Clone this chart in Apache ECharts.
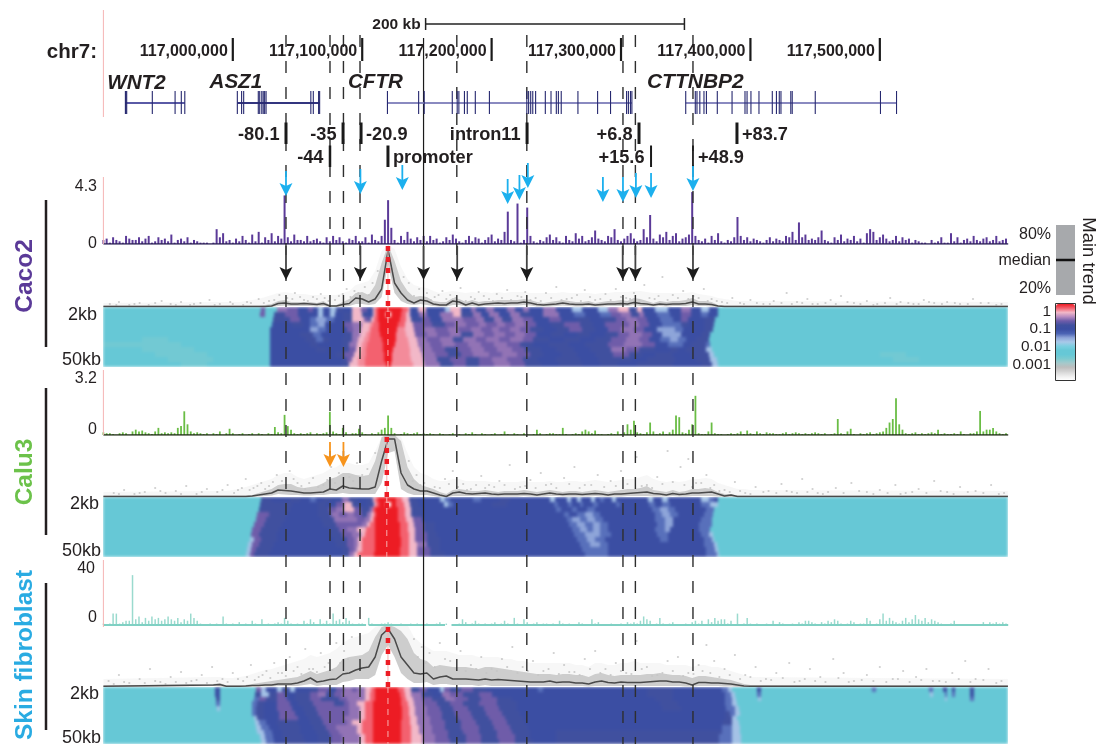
<!DOCTYPE html>
<html><head><meta charset="utf-8">
<script src="https://cdn.jsdelivr.net/npm/echarts@6/dist/echarts.min.js"></script>
<style>html,body{margin:0;padding:0;background:#fff}#c{width:1097px;height:744px}
canvas[data-zr-dom-id="zr_0"]{filter:blur(1.5px)}</style>
</head><body><div id="c"></div>
<script>
// genomic coordinates are kb offsets from chr7:117,000,000
const X_MIN=-100, X_MAX=599.2;
const tickKb=[0,100,200,300,400,500];
const tickLabels=['117,000,000','117,100,000','117,200,000','117,300,000','117,400,000','117,500,000'];
const wnt2=[-83,-82.6,-82,-62.2,-44.6,-39.8,-37.1];
const asz1=[3.5,6.8,8.4,19.7,20.8,22.4,23.5,24.6,25.7,60.3,62.2,66.3,67.1];
const cftr=[119.5,143.6,147.9,169.6,173.4,174.7,179,181.2,187.4,198.3,227.2,228.6,230.2,231.8,234,241.5,245.9,250,251.6,253.8,266.7,281.9,291.9,304.3,305.7,307.3,308.4];
const cttnbp2=[350,357.4,358.7,360.9,364.1,366,374.4,385.8,395.8,397.4,400.4,406.6,416.9,420.1,422.3,423.6,431.2,432.3,450.1,500.5,512.9];
const dashedKb=[41.1,75.1,85.5,98.3,173.1,227.2,301.5,311.1,355.6];
const solidKb=[147.4];
const blueArrows=[[41.1,196],[98.6,194],[131,190],[212.4,204],[221.5,200],[228,188],[286,202],[301.5,202],[311.5,198],[323.2,198],[355.6,191]];
const blackArrows=[41.1,98.6,147.4,173.4,227.2,301.3,311.1,355.6];
const orangeArrows=[75.1,85.5];
const siteLabels=[[41.1,'-80.1','r',134,3],[85.2,'-35','r',134,3],[99.1,'-20.9','l',134,3],[227.4,'intron11','r',134,3],[313.9,'+6.8','r',134,3],[389.6,'+83.7','l',134,3],[75.1,'-44','r',157,2.5],[119.9,'promoter','l',157,3],[323.2,'+15.6','r',157,2],[355.6,'+48.9','l',157,1.8]];

const binStart=-100, binKb=2.5;
const caco2Signal=[.3,.4,.1,.5,.3,.2,.1,.6,.4,.3,.3,.5,.2,.4,.6,.1,.2,.5,.3,.4,
.2,.7,.1,.3,.4,.2,.5,.1,.3,.2,.1,.1,.1,0,.1,1.1,.5,.8,.2,.3,
.1,.4,.2,.6,.3,.1,.7,.2,.9,.1,.5,.3,.8,.2,.6,.4,3.6,.5,.2,.7,
.3,.3,.2,.6,.2,.3,.4,.2,.1,.5,.2,.6,.3,.5,.2,.1,.4,.3,.6,.2,
.2,.5,.1,.7,.3,.2,.6,1.8,3.25,1.2,.3,.1,.6,.3,.9,.4,.2,.5,.3,.6,
.2,.6,.3,.4,.1,.2,.5,.3,.7,.4,.2,.1,.3,.6,.2,.5,.4,.1,.3,.5,
.7,.2,.4,.3,.9,2.4,.3,.2,3,.1,.3,2.7,.6,.2,.1,.3,.2,.5,.7,.3,
.5,.2,.1,.6,.3,.2,.8,.4,.6,.2,.3,.5,1,.4,.3,.2,.6,.5,1.1,.3,
.2,.4,.6,.8,.4,.2,.3,1.1,.5,2.15,.4,.2,.7,.5,.9,.3,.6,.8,.2,.4,
.5,.7,3.85,.6,.3,.2,.4,.1,.6,.3,.8,.2,.1,.3,.2,.5,2,.6,.3,.5,
.2,.4,.3,.2,.1,.3,.5,.2,.4,.3,.2,.6,.5,.9,.3,1.6,.5,.7,.3,.4,
.3,.5,1,.3,.2,.1,.5,.3,.7,.2,.4,.3,.6,.2,.4,.1,.8,1.1,.9,.3,
.5,.7,.4,.2,.3,.6,.2,.5,.3,.4,.1,.3,.2,.1,.1,0,.3,.1,.2,.5,
.1,.1,.8,.2,.5,.1,.3,.4,.2,.6,.3,.2,.4,.5,.2,.3,.6,.2,.3,.4];
const calu3Signal=[.15,.1,.1,.05,0,.1,.15,.1,0,.2,.3,.2,.25,.15,.1,.05,.2,.4,.1,.15,
.1,.15,.1,.4,.5,1.33,.6,.2,.1,.15,.1,.05,.1,0,.1,.05,.2,0,.1,.35,
.1,0,.05,.1,0,.05,.1,0,.1,.05,0,.1,.05,.45,.15,.1,1.13,.5,.3,.1,
.05,.1,.05,.1,.15,0,.1,.05,.1,.15,1.3,.2,.1,.05,.4,.15,0,.1,.1,.35,
.15,.05,0,.1,.05,.15,.3,.4,1.1,.4,.1,0,.05,.15,.1,.05,.1,.15,.05,.1,
.05,.1,.05,0,.1,.05,0,.05,.1,0,.05,0,.1,.05,.15,.05,0,.1,.05,0,
.05,.1,0,.05,.2,.05,0,.1,.05,0,.1,.05,0,.05,.3,.1,0,.05,.1,.1,
.05,.05,.4,.05,0,.05,.1,.05,.2,.3,.2,.1,.25,.05,.05,0,.05,.1,.05,.2,
.05,.15,.6,.3,.8,.15,.1,.05,.15,.7,.2,.05,.1,.2,.05,.15,.3,1.1,1,.15,
.1,.3,.6,2.2,.1,.05,.05,.2,.7,.1,.05,.05,0,.05,.1,.05,.1,.2,.05,.25,
.1,.05,.2,.1,.05,.15,.1,.1,.05,.05,.1,.15,.05,.1,.15,.1,.05,.1,.05,.1,
.15,.1,.05,.1,0,.05,.1,.9,.1,.05,.2,.35,.05,0,.1,.05,.1,.15,.05,.1,
.15,.2,.4,.7,.9,2.07,.6,.3,.1,.05,.1,.15,.05,.1,.05,.1,.15,.1,.3,.05,
.1,.05,.05,.1,.05,.2,.05,0,.1,.1,.2,1.35,.2,.3,.3,.4,.2,.1,.05,.1];
const fibroSignal=[1,.5,1,8,8,1,2,3,3,35,4,6,2,5,3,6,4,5,3,4,
6,4,3,5,2,4,3,8,5,3,1,.5,0,1,.5,1,0,6,1,.5,
1,.5,2,.5,1,0,3,1,.5,4,.5,1,.5,1,2,1,5,3,1,.5,
1,.5,3,1,4,2,.5,4,1,3,1,8,3,4,2,5,3,1,.5,1,
1,0,5,1,.5,0,1,1,2,1,.5,0,1,.5,0,1,.5,1,.5,0,
1,.5,0,1,2,.5,1,0,.5,0,1,4,2,.5,1,3,1,.5,1,.5,
1,2,.5,1,3,1,.5,5,1,.5,4,2,.5,1,2,.5,1,1,0,1,
.5,3,1,.5,1,0,.5,2,1,0,.5,4,1,2,.5,0,.5,1,0,.5,
1,.5,2,1,2,1,3,6,4,3,.5,1,5,1,.5,1,2,.5,0,.5,
1,.5,2,3,1,3,.5,4,2,5,3,4,4,1,3,.5,8,.5,1,5,
1,.5,1,.5,.5,1,.5,3,.5,2,1,0,.5,1,.5,2,1,3,3,2,
1,.5,2,1,3,2,4,3,1,.5,1,3,2,.5,1,1,5,3,.5,1,
4,8,3,5,3,2,1,3,5,2,4,7,4,3,5,2,4,3,2,1,
.5,.5,1,3,.5,0,0,0,0,.5,0,.5,2,.5,2,1,2,1,2,1];

const trendKb=[-100,-15,-10,-5,0,5,10,15,20,25,30,35,40,45,50,55,60,65,70,75,80,85,90,95,100,105,110,115,120,125,130,135,140,145,150,155,160,165,170,175,180,185,190,195,200,205,210,215,220,225,230,235,240,245,250,255,260,265,270,275,280,285,290,295,300,305,310,315,320,325,330,335,340,345,350,355,360,365,370,375,380,385,390,395,400,599];
const caco2Median=[.5,.5,.5,.5,.5,.5,.5,.5,.5,.5,1,3.5,4,3,3,3.5,3,2.5,3.5,1,1,2.5,3.5,9,8,5,8,18,57,24,14,7,4,7,6,3,2,2,6,5,2,4,2,3,3.5,4,3.5,4,4,5,4,2.5,2,2.5,3,4,3,2.5,2.5,3,2,2.5,3,3,3.5,3,4.5,3.5,3,2,3,2.5,3,3,3.5,5,3,3,2.5,1,.5,.5,.5,.5,.5,.5];
const caco2Upper=[1.5,1.5,1.5,1.5,1.5,1.5,1.5,1.5,1.5,2,3,6,7,5,5,5,5,4,6,2,2,5,8,14,15,12,22,44,62,46,26,16,10,11,10,6,5,5,9,8,5,7,5,6,6,7,7,7,7,8,7,5,4,5,6,7,6,5,5,6,4,5,6,6,7,6,9,8,6,4,6,5,6,6,7,9,6,6,5,2,1.5,1.5,1.5,1.5,1.5,1.5];
const caco2Lower=[0,0,0,0,0,0,0,0,0,0,0,1,1.5,1,1,1,1,.5,1,0,0,.5,1,3,3,2,3,10,42,14,6,3,2,3,2,1,.5,.5,2,2,.5,1,.5,1,1,1,1,1.5,1.5,2,1.5,.5,.5,.5,1,1.5,1,.5,.5,1,.5,.5,1,1,1,1,2,1,1,.5,1,.5,1,1,1,2,1,1,.5,0,0,0,0,0,0,0];
const caco2Haze=[4,5,5,5,5,5,6,7,8,10,12,14,15,14,13,13,12,12,12,12,12,14,16,22,24,26,36,56,62,58,40,28,22,20,19,16,14,15,16,15,14,15,14,15,14,15,14,15,15,15,14,14,14,14,14,15,14,14,14,14,13,14,14,15,15,15,16,16,15,14,14,14,14,14,14,15,13,12,11,9,8,7,6,6,6,5];
const calu3Median=[.5,.5,.5,.5,.5,.5,.5,1,2,3,4,7,6.5,6,5,4,4,4.5,5,8,7,11,9,8.5,8,8,10,36,58,58,24,12,8,6,6,4,2,.5,4,5,3.5,3,3.5,4,3,2.5,3,3,3,3.5,3,2,3,4,3,2.5,3,3,2.5,3,3.5,3,2,3,3,3.5,4,4.5,5,3.5,3,2,3.5,2.5,3,4,4,4.5,5,3,1,2,.5,.5,.5,.5];
const calu3Upper=[1.5,1.5,1.5,1.5,1.5,1.5,1.5,2,4,6,8,12,13,13,10,9,10,11,14,18,20,24,24,22,21,22,36,60,62,62,56,30,18,12,10,8,5,3,7,8,7,6,6,7,6,5,6,6,6,7,6,5,6,7,6,5,6,6,5,6,7,6,5,6,7,8,8,9,11,7,6,5,7,5,6,8,8,9,8,5,3,3,1.5,1.5,1.5,1.5];
const calu3Lower=[0,0,0,0,0,0,0,0,.5,1,1.5,3,2.5,2,2,1.5,1.5,2,2,3,3,4,3,3,3,3,3,14,44,46,8,4,2,2,2,1,0,0,1,1,1,1,1,1,.5,.5,.5,.5,.5,1,.5,.5,.5,1,1,.5,.5,.5,.5,.5,1,.5,.5,.5,.5,1,1,1,1,.5,.5,.5,1,.5,.5,1,1,1,1,.5,0,0,0,0,0,0];
const calu3Haze=[5,6,6,6,7,8,10,12,14,16,18,22,24,24,20,18,20,22,24,28,30,34,34,32,32,34,46,60,62,62,60,44,30,24,22,18,16,16,18,18,16,16,16,16,15,15,15,15,15,16,15,15,15,16,15,15,16,16,15,16,17,16,15,16,17,18,18,20,22,18,16,15,16,15,16,18,18,19,18,14,12,10,8,8,7,6];
const fibroMedian=[.8,2,2.5,.8,.8,.8,1,1.5,1.5,2,2,3,3,3,4,6,9,5,6,7.5,8,13,14,17,19,20,30,52,58,48,30,22,14,13,14,8,10,11,8,8,8,7.5,7,8,7,7.5,7,6.5,6,5.5,5,5,5,6,4.5,5,5,4,4,3,5,6,4.5,4,5,4.5,4.5,4.5,5,5.5,6,6,5,5,4,2,4.5,4.5,4,4,3.5,3,2,1,.8,.8];
const fibroUpper=[1.5,3,4,1.5,1.5,1.5,2,3,4,5,6,7,8,9,10,13,16,13,15,17,20,28,30,31,32,36,50,60,62,60,56,48,34,28,26,20,22,21,20,20,20,19,18,20,20,19,18,17,16,15,14,13,13,13,12,13,13,12,12,10,13,14,12,11,12,12,12,12,13,13,14,13,12,12,11,9,11,11,10,9,8,7,5,3,2,1.5];
const fibroLower=[0,1,.5,0,0,0,0,.5,.5,.5,.5,1,1,1,1,2,3,1,2,2,2,5,6,8,8,8,12,32,42,30,14,8,4,4,5,2,3,3,2,2,2,2,1,2,1,1,1,1,1,1,1,1,1,1,1,1,1,1,1,.5,1,1,1,1,1,1,1,1,1,1,1,1,1,1,.5,.5,1,1,1,1,.5,.5,0,0,0,0];
const fibroHaze=[8,10,10,9,9,10,11,13,15,17,18,20,22,24,26,28,32,30,32,34,38,44,48,50,52,54,60,62,62,62,62,62,50,44,40,36,36,36,34,32,32,32,30,30,30,30,28,28,26,26,24,24,24,24,24,24,24,22,22,20,24,24,22,22,24,24,26,24,24,24,24,22,22,22,22,20,22,22,20,20,18,16,14,12,10,8];

// scattered contact points, as [kb, height above the 2 kb line]
const caco2Dots=[[-95,3],[-88,5],[-80,2],[-72,4],[-65,2],[-55,6],[-48,3],[-40,5],[-33,2],[-25,4],[-18,7],[-10,3],[-2,5],[8,2],[14,4],[20,8],[28,6],[36,12],[42,9],[48,14],[55,7],[62,10],[68,13],[74,6],[82,11],[88,18],[94,16],[102,20],[108,24],[112,36],[132,30],[136,24],[144,18],[150,14],[156,10],[162,16],[168,12],[176,19],[184,10],[190,15],[198,8],[204,13],[212,17],[220,11],[226,15],[234,9],[242,14],[250,20],[258,8],[266,12],[272,17],[280,7],[288,13],[296,18],[304,9],[310,14],[318,22],[326,8],[332,30],[340,12],[348,16],[356,11],[364,18],[370,8],[378,5],[386,9],[392,4],[400,7],[410,3],[418,6],[428,14],[436,5],[444,8],[452,3],[462,7],[470,11],[480,4],[490,6],[498,3],[508,9],[516,5],[526,3],[534,7],[542,4],[552,5],[562,3],[572,8],[584,4],[594,3],
[-90,2],[-76,3],[-60,4],[-44,2],[-30,3],[-14,2],[0,3],[11,5],[24,4],[32,7],[39,5],[46,8],[52,10],[58,6],[65,8],[71,9],[79,7],[85,13],[91,10],[97,14],[105,12],[140,11],[147,9],[153,7],[159,12],[165,8],[172,9],[180,6],[187,8],[194,11],[201,6],[208,9],[215,7],[223,10],[230,7],[238,6],[246,9],[254,7],[262,9],[269,6],[276,10],[284,8],[292,7],[300,10],[307,8],[314,7],[322,9],[329,11],[336,7],[344,9],[352,8],[360,9],[367,6],[374,6],[382,4],[395,3],[405,4],[415,3],[424,4],[432,3],[440,4],[448,3],[458,4],[466,3],[475,5],[485,3],[495,2],[504,4],[513,3],[522,4],[530,3],[538,5],[548,3],[558,4],[568,3],[578,4],[590,2]];
const calu3Dots=[[-92,4],[-84,7],[-76,3],[-68,5],[-60,9],[-52,4],[-44,6],[-36,11],[-28,3],[-20,8],[-12,5],[-4,12],[4,7],[10,18],[16,9],[22,14],[28,11],[34,22],[38,16],[44,26],[50,14],[56,8],[62,19],[70,12],[76,30],[82,24],[90,20],[96,34],[104,28],[110,44],[136,36],[142,22],[148,14],[156,10],[164,18],[170,26],[178,13],[184,8],[192,21],[198,12],[206,16],[214,32],[222,10],[230,17],[238,24],[246,13],[256,19],[264,30],[272,12],[282,22],[292,16],[300,26],[312,40],[320,12],[328,20],[336,46],[346,30],[352,38],[358,14],[366,22],[372,12],[380,7],[388,15],[396,4],[404,10],[414,6],[424,13],[432,5],[440,18],[448,8],[456,3],[466,9],[478,14],[490,5],[500,7],[512,12],[520,4],[530,8],[542,16],[552,5],[562,10],[574,6],[586,12],[596,4],
[-88,3],[-72,4],[-56,6],[-40,3],[-24,5],[-8,7],[1,4],[7,9],[13,7],[19,11],[25,8],[31,15],[41,12],[47,18],[53,11],[59,14],[66,10],[73,17],[79,14],[86,18],[93,16],[100,22],[139,16],[145,12],[152,8],[160,9],[167,13],[174,10],[181,7],[188,12],[195,9],[202,10],[210,12],[218,8],[226,11],[234,9],[242,12],[250,9],[260,13],[268,9],[277,12],[287,10],[296,11],[305,13],[316,11],[324,9],[332,13],[340,15],[349,12],[355,10],[362,14],[369,9],[376,6],[384,5],[392,6],[400,3],[410,5],[420,4],[428,6],[436,4],[444,5],[452,4],[460,5],[472,4],[484,6],[495,3],[506,4],[516,3],[525,5],[536,4],[547,6],[557,3],[568,5],[580,4],[592,3]];
const fibroDots=[[-96,6],[-88,12],[-80,4],[-72,8],[-64,18],[-56,5],[-48,10],[-40,15],[-32,6],[-24,12],[-16,20],[-8,8],[0,14],[8,6],[14,22],[20,10],[26,16],[32,24],[38,14],[44,30],[50,20],[56,38],[62,18],[68,34],[74,24],[80,44],[86,36],[92,50],[140,48],[146,40],[152,34],[160,44],[168,26],[176,36],[184,22],[192,30],[200,18],[208,28],[216,40],[224,20],[232,26],[240,16],[248,34],[256,22],[264,15],[272,28],[280,36],[288,18],[296,24],[304,14],[312,46],[320,20],[328,12],[336,26],[344,30],[352,14],[360,22],[366,42],[372,26],[380,18],[388,32],[396,12],[404,20],[412,8],[420,14],[430,24],[438,6],[446,18],[454,10],[464,28],[472,14],[480,6],[490,12],[500,20],[510,8],[518,16],[528,10],[536,18],[546,6],[556,14],[566,26],[574,8],[584,18],[594,6],
[-92,3],[-84,5],[-68,4],[-60,6],[-52,3],[-44,5],[-36,4],[-28,7],[-20,4],[-12,6],[-4,5],[4,8],[11,10],[17,7],[23,12],[29,9],[35,14],[41,11],[47,16],[53,13],[59,18],[65,15],[71,20],[77,17],[83,24],[89,28],[143,30],[149,24],[156,20],[164,28],[172,18],[180,16],[188,18],[196,14],[204,16],[212,20],[220,14],[228,16],[236,12],[244,18],[252,13],[260,15],[268,12],[276,18],[284,14],[292,12],[300,16],[308,13],[316,18],[324,11],[332,14],[340,16],[348,11],[356,13],[363,16],[369,14],[376,10],[384,12],[392,8],[400,10],[408,6],[416,7],[425,9],[434,5],[442,8],[450,6],[458,5],[468,9],[476,5],[486,7],[495,6],[505,5],[514,8],[523,5],[532,7],[541,6],[551,5],[561,8],[570,5],[580,7],[590,4]];

const rowEdges=[2,2.62,3.42,4.47,5.85,7.65,10,13.1,17.1,22.4,29.2,38.2,50];
// levels are log10 of contact frequency
const W=-4,G=-2.62,C=-2.4,L=-1.7,N=-1.5,M=-1.3,B=-1,D=-.75,P=-.5,Q=-.38,K=0,S=.13,H=.25,R=.5;
const caco2Heat=[
[22,C,25,P,34,C,42,Q,50,P,58,B,62,P,66,B,70,L,75,B,80,L,85,D,92,B,99,K,104,P,108,B,110,K,112,H,131,R,135,H,137,K,143,B,149,K,155,B,164,B,168,L,176,K,184,B,188,Q,196,B,202,Q,212,B,218,Q,224,B,229,Q,240,B,250,Q,262,B,270,L,282,B,290,L,298,Q,306,K,312,D,316,K,326,B,336,L,346,B,354,Q,362,B,368,L,375,B,600,C],
[21,C,25,P,32,C,40,D,50,P,58,B,66,B,70,L,75,B,79,L,85,B,92,D,100,K,104,D,108,B,110,K,112,H,118,R,122,W,130,R,134,H,137,K,144,B,150,Q,160,B,170,Q,176,K,186,D,192,Q,198,B,206,Q,214,B,222,Q,230,D,240,B,252,Q,264,B,272,M,284,B,292,M,300,P,308,Q,314,D,318,Q,328,B,338,M,346,B,354,P,362,B,367,M,375,B,600,C],
[31,C,44,D,52,P,60,B,64,M,72,N,78,M,85,B,92,D,101,K,105,P,107,D,109,K,112,H,129,R,134,H,138,K,146,D,152,P,162,B,172,Q,178,Q,188,P,194,Q,202,D,208,Q,216,D,224,Q,232,P,244,B,254,P,266,B,276,D,286,B,296,D,304,P,312,Q,320,P,330,B,340,M,346,B,352,P,364,B,373,D,600,C],
[30,C,46,B,54,D,60,B,66,M,71,N,76,B,86,B,92,P,100,Q,106,K,108,S,113,H,128,R,133,H,139,K,148,P,154,P,164,D,172,P,180,Q,190,P,196,Q,204,P,210,Q,218,P,226,Q,234,P,246,B,256,D,268,P,278,D,288,B,298,P,306,P,314,Q,322,P,332,B,338,M,346,M,352,D,364,B,372,D,600,C],
[29,C,48,B,60,B,66,N,72,M,76,B,88,B,93,P,99,Q,105,K,107,S,113,H,127,R,133,S,140,K,148,P,156,Q,166,P,174,Q,184,P,192,Q,200,P,206,Q,214,P,222,Q,230,P,240,D,250,B,260,D,270,P,280,D,290,B,300,P,310,Q,318,P,328,B,334,N,342,N,348,M,354,B,364,B,371,D,600,C],
[29,C,52,B,62,D,68,M,74,B,86,B,92,D,98,Q,103,K,106,S,114,H,126,R,134,S,141,K,150,P,158,Q,168,P,176,Q,186,D,194,Q,202,P,210,Q,218,P,226,Q,234,P,246,B,256,D,266,B,276,D,288,B,298,D,306,P,316,Q,324,P,332,B,340,N,346,N,352,B,362,B,369,D,600,C],
[-70,C,-50,G,29,C,56,B,64,D,70,M,74,D,84,B,92,D,97,Q,101,K,105,S,115,H,126,R,135,S,142,K,150,Q,160,P,170,Q,178,D,188,Q,196,P,206,Q,214,P,224,Q,232,P,244,D,256,B,268,D,280,B,292,D,304,P,314,Q,322,P,330,B,338,M,344,N,350,M,358,B,368,D,600,C],
[-70,G,-40,G,29,C,60,B,66,D,72,B,84,B,90,D,96,Q,100,K,104,S,116,H,125,R,136,S,143,K,152,Q,162,P,172,Q,182,P,192,Q,202,P,212,Q,222,P,232,D,244,B,260,D,272,B,290,D,302,P,316,Q,326,P,336,B,342,M,348,M,354,B,366,D,369,M,600,C],
[-70,C,-30,G,29,C,64,B,72,D,78,B,84,B,90,D,95,P,99,K,103,S,116,H,124,R,137,S,145,K,154,Q,164,P,174,D,184,P,194,Q,204,P,216,Q,226,P,238,D,250,B,264,D,276,B,292,D,304,Q,314,P,326,D,338,B,344,D,350,B,366,D,370,L,600,C],
[-60,C,-20,G,29,C,66,B,74,B,80,B,86,D,94,P,98,K,103,S,117,H,123,R,137,S,146,K,156,Q,166,P,176,D,186,P,198,Q,208,P,220,Q,230,P,240,D,254,B,266,D,280,B,294,D,306,P,316,D,326,B,340,D,346,B,354,B,368,D,372,L,500,C,520,G,600,C],
[-50,C,-15,G,29,C,68,B,76,B,84,B,88,D,92,P,97,K,102,S,117,H,123,R,138,S,147,K,158,Q,168,D,180,P,190,D,200,P,212,Q,224,P,236,D,250,B,268,D,282,B,296,D,308,D,320,B,342,D,348,B,358,B,369,D,374,L,510,C,530,G,600,C],
[-40,C,-20,G,29,C,70,B,78,B,84,B,90,D,97,K,102,S,118,H,122,R,139,S,148,K,160,Q,170,D,180,P,190,D,202,P,214,Q,226,P,238,D,252,B,270,D,284,B,298,D,312,B,340,D,348,B,362,B,370,D,375,L,600,C]];
const calu3Heat=[
[22,C,30,D,44,B,52,D,60,B,64,M,70,B,76,D,84,B,90,Q,96,D,104,B,108,D,110,K,112,H,126,R,131,H,136,K,142,D,160,B,164,L,168,M,186,B,192,M,206,B,214,D,245,B,249,L,258,B,261,L,266,B,269,L,277,B,280,L,284,B,287,M,293,B,296,L,321,B,325,L,332,B,336,L,362,B,368,L,372,M,375,B,600,C],
[21,C,32,D,46,D,54,B,66,B,72,D,80,B,86,P,92,K,98,D,104,B,109,D,111,K,113,H,118,R,122,W,126,R,132,H,137,K,144,D,163,B,166,L,170,M,200,B,212,D,248,B,251,M,259,B,262,M,268,B,271,M,278,B,282,M,296,B,299,M,322,B,326,M,332,B,338,M,362,B,369,M,375,L,600,C],
[20,C,30,D,44,D,52,B,66,B,74,D,80,P,86,Q,94,K,99,P,106,D,108,Q,110,H,115,R,128,R,133,H,138,K,146,D,250,B,254,M,262,B,266,M,274,B,280,M,324,B,330,M,336,N,342,M,366,B,372,M,600,C],
[19,C,28,P,42,D,50,B,66,B,76,D,82,Q,88,P,94,Q,100,P,104,D,107,Q,109,K,111,H,128,R,133,H,138,K,146,D,256,B,260,M,266,B,272,M,278,N,284,M,326,B,332,M,338,N,344,M,364,B,371,M,600,C],
[18,C,26,P,40,D,50,B,68,B,78,D,84,Q,96,Q,102,P,106,Q,108,K,110,H,128,R,134,H,139,K,146,P,258,B,262,M,268,N,274,M,280,N,286,M,326,B,334,M,340,N,346,B,362,B,370,M,600,C],
[16,C,24,P,38,D,52,B,70,B,80,D,86,P,100,P,104,Q,106,K,110,H,129,R,135,H,140,K,148,P,156,D,260,B,266,M,272,N,278,M,284,N,290,M,328,B,334,M,340,N,346,B,360,B,370,M,600,C],
[15,C,22,P,36,D,50,B,74,B,82,D,88,P,96,Q,103,K,110,H,129,R,135,H,141,K,148,P,156,D,262,B,268,M,274,N,278,M,284,N,290,M,326,B,334,M,338,N,344,B,360,B,369,M,600,C],
[14,C,20,P,34,D,46,B,76,B,84,D,92,P,99,Q,102,K,110,H,129,R,136,H,141,K,150,P,158,D,264,B,272,M,284,N,292,M,328,B,336,M,340,B,362,B,368,M,371,L,600,C],
[13,C,16,L,22,P,34,D,46,B,78,B,88,D,94,P,97,Q,100,K,110,H,130,R,136,H,141,K,150,P,160,D,266,B,274,M,280,N,288,M,330,B,336,M,340,B,364,B,370,M,372,L,600,C],
[12,C,15,L,20,P,32,D,44,B,80,B,88,D,94,P,97,Q,100,K,110,H,130,R,136,H,142,K,150,Q,160,D,268,B,276,M,284,N,290,M,364,B,372,M,374,L,600,C],
[11,C,14,L,18,P,30,D,42,B,84,B,90,D,94,P,96,Q,100,K,110,H,129,R,136,H,142,K,152,P,160,D,270,B,282,M,290,M,366,B,373,M,375,L,600,C],
[10,C,13,L,16,P,28,D,40,B,84,B,90,D,94,Q,97,K,109,H,129,R,136,H,142,K,152,P,164,D,272,B,284,M,290,M,366,B,374,M,376,L,600,C]];
const fibroHeat=[
[-14,C,-10,B,18,C,22,P,26,L,34,B,38,L,44,D,48,L,60,B,66,D,74,P,80,B,86,P,92,Q,96,P,102,Q,107,K,110,H,128,R,132,H,138,K,144,D,150,P,160,B,163,L,168,P,176,D,186,P,196,D,236,B,240,M,320,B,340,D,378,B,383,M,386,L,405,C,408,B,494,C,497,M,538,C,541,M,549,C,552,B,556,C,558,B,570,C,573,B,600,C],
[-14,C,-10,B,17,C,22,D,28,L,34,D,40,P,48,B,60,D,66,P,72,Q,78,D,84,P,90,Q,102,Q,106,K,110,H,129,R,133,H,138,K,146,Q,154,D,162,B,168,Q,178,P,190,D,200,P,320,B,340,D,380,B,385,M,388,L,405,C,408,M,539,C,541,L,550,C,552,M,556,C,558,M,570,C,573,B,600,C],
[-13,C,-10,D,16,C,20,M,26,P,34,D,42,P,48,B,60,D,68,P,82,D,88,P,94,Q,102,Q,106,K,110,H,130,R,134,H,139,K,146,Q,154,P,164,D,172,Q,182,P,192,D,204,P,216,D,326,B,340,D,380,B,386,M,389,L,406,C,408,L,550,C,552,L,570,C,573,M,600,C],
[-13,C,-10,M,15,C,19,M,24,D,34,B,44,P,50,B,62,D,78,P,86,D,90,P,96,Q,102,K,108,H,130,R,135,H,140,K,148,Q,158,P,168,D,178,P,190,D,204,P,220,D,230,B,330,B,344,D,380,B,386,M,390,L,600,C],
[-12,C,-10,L,15,C,18,M,24,D,34,B,46,P,54,B,64,D,84,P,90,P,98,Q,102,K,108,H,131,R,136,H,141,K,150,Q,160,P,170,D,182,P,194,D,206,P,220,D,236,B,332,B,346,D,381,B,388,M,391,L,600,C],
[15,C,18,M,24,D,36,B,48,P,56,B,66,D,86,P,90,P,98,Q,102,K,108,H,131,R,136,H,141,K,150,Q,162,P,172,D,184,P,196,D,208,P,222,D,240,B,380,B,384,D,388,M,392,L,600,C],
[16,C,19,L,24,D,36,B,50,P,58,B,68,D,86,P,92,Q,98,Q,102,K,108,H,131,R,137,H,142,K,152,Q,162,P,174,D,186,P,198,D,210,P,224,D,244,B,380,B,386,D,390,L,600,C],
[17,C,20,L,26,M,34,B,50,D,60,B,70,D,88,P,92,Q,100,K,108,H,130,R,137,H,142,K,152,Q,164,P,176,D,188,P,200,D,212,P,226,D,246,B,378,B,386,D,391,L,600,C],
[18,C,22,L,28,M,36,B,52,D,62,B,72,D,80,P,88,Q,96,Q,100,K,108,H,130,R,138,H,144,K,154,Q,164,P,176,D,190,P,202,D,214,P,228,D,250,B,378,B,386,M,392,L,600,C],
[19,C,24,L,30,M,38,B,52,D,64,B,74,D,82,P,90,Q,96,Q,100,K,108,H,130,R,138,H,144,K,154,Q,166,P,178,D,190,P,204,D,216,P,230,D,250,B,378,D,386,M,392,L,600,C],
[21,C,25,L,31,M,38,B,54,D,66,B,76,D,84,P,90,Q,98,Q,102,K,108,H,130,R,138,H,146,K,156,Q,166,P,180,D,192,P,204,D,218,P,230,D,250,B,376,D,386,M,393,L,600,C],
[22,C,26,L,32,M,40,B,56,D,66,B,76,D,84,P,92,Q,98,Q,102,K,108,H,130,R,138,H,146,K,156,Q,168,P,180,D,192,P,206,D,218,P,232,D,250,B,376,D,386,M,393,L,600,C]];

const heatStops=['#ffffff','#ececec','#d4d4d4','#bdbdbd','#a6c9cb','#7ecbd0','#66c8d6','#66c8d6','#7ccfe0','#a9c9e9','#8ea5d9','#4b63b4','#3b4ea3','#40509f','#6f5ca9','#b88cc1','#f2b8c8','#f3616f','#ed1c24'];
const heatMin=-4, heatMax=.5;
const legendTicks=['1','0.1','0.01','0.001'];

const chart=echarts.init(document.getElementById('c'),null,{renderer:'canvas'});
const gridTops=[[0,744],[186,58],[245,62],[307,60],[378,57],[437,60],[497,60],[568,57],[627,60],[687,60]];
const grid=gridTops.map(g=>({left:103.4,width:904.8,top:g[0],height:g[1],containLabel:false,show:false}));
const yRanges=[{min:0,max:744,inverse:true},{min:0,max:4.3},{min:0,max:62},{type:'log',min:2,max:50,inverse:true},{min:0,max:3.2},{min:0,max:60},{type:'log',min:2,max:50,inverse:true},{min:0,max:40},{min:0,max:60},{type:'log',min:2,max:50,inverse:true}];
const xAxis=grid.map((g,i)=>({type:'value',gridIndex:i,min:X_MIN,max:X_MAX,show:false}));
const yAxis=yRanges.map((r,i)=>Object.assign({type:'value',gridIndex:i,show:false,logBase:10},r));

const series=[];
const layer=(ax,data,render,z,extra)=>series.push(Object.assign({type:'custom',coordinateSystem:'cartesian2d',xAxisIndex:ax,yAxisIndex:ax,data,renderItem:render,silent:true,animation:false,z:z,zlevel:1,clip:false},extra||{}));

function heat(ax,rows){
  const items=[];
  rows.forEach((r,ri)=>{let s=X_MIN;for(let k=0;k<r.length;k+=2){const e=Math.min(r[k],X_MAX);if(e>s){items.push([s,e,rowEdges[ri],rowEdges[ri+1],r[k+1]]);s=e;}}});
  layer(ax,items,(p,api)=>{
    const a=api.coord([api.value(0),api.value(2)]),b=api.coord([api.value(1),api.value(3)]);
    const x0=Math.round(a[0]),x1=Math.round(b[0]),y0=Math.round(a[1]),y1=Math.round(b[1]);
    return {type:'rect',shape:{x:x0,y:y0,width:x1-x0,height:y1-y0},style:{fill:api.visual('color')}};
  },2,{encode:{x:[0,1],y:[2,3]},clip:true,zlevel:0});
}
function band(ax,lo,hi,fill,op,z){
  layer(ax,[0],(p,api)=>{
    const pts=[];trendKb.forEach((k,i)=>pts.push(api.coord([k,hi[i]])));
    for(let i=trendKb.length-1;i>=0;i--)pts.push(api.coord([trendKb[i],lo[i]]));
    return {type:'polygon',shape:{points:pts},style:{fill:fill,opacity:op}};
  },z);
}
function trend(ax,lo,hi,med,hz,dots){
  band(ax,lo,hz,'#e2e2e2',.28,2.5);
  series.push({type:'scatter',xAxisIndex:ax,yAxisIndex:ax,data:dots,symbolSize:2.2,itemStyle:{color:'#a8a8a8',opacity:.55},silent:true,animation:false,z:3,zlevel:1,clip:false});
  band(ax,lo,hi,'#c6c6c6',.85,4);
  series.push({type:'line',xAxisIndex:ax,yAxisIndex:ax,data:trendKb.map((k,i)=>[k,med[i]]),showSymbol:false,lineStyle:{color:'#4a4a4a',width:1.5},silent:true,animation:false,z:5,zlevel:1});
}
function bars(ax,vals,color,w){
  series.push({type:'bar',xAxisIndex:ax,yAxisIndex:ax,data:vals.map((v,i)=>[binStart+binKb*i,v]),barWidth:w,itemStyle:{color},silent:true,animation:false,z:6,zlevel:1});
}
function baseline(ax,segs,color,w){
  const d=[];segs.forEach(s=>{d.push([s[0],0],[s[1],0],null);});
  series.push({type:'line',xAxisIndex:ax,yAxisIndex:ax,data:d,connectNulls:false,showSymbol:false,lineStyle:{color,width:w},silent:true,animation:false,z:7,zlevel:1});
}
heat(3,caco2Heat);heat(6,calu3Heat);heat(9,fibroHeat);
const heatSeriesIdx=[0,1,2];
trend(2,caco2Lower,caco2Upper,caco2Median,caco2Haze,caco2Dots);
trend(5,calu3Lower,calu3Upper,calu3Median,calu3Haze,calu3Dots);
trend(8,fibroLower,fibroUpper,fibroMedian,fibroHaze,fibroDots);
bars(1,caco2Signal,'#5b3a98',2);baseline(1,[[X_MIN,X_MAX]],'#2a1f55',1.6);
bars(4,calu3Signal,'#6abd45',1.8);baseline(4,[[X_MIN,X_MAX]],'#1d2b12',1.5);
bars(7,fibroSignal,'#9adace',1.5);baseline(7,[[X_MIN,103],[105,164],[169,X_MAX]],'#7fd0c3',2);

// overlay: vertical guides, genes, arrows, text (x through the shared genomic scale)
function vlines(items,z){
  layer(0,items.map(i=>[i[0],i[1],i[2]]),(p,api)=>{
    const it=items[p.dataIndex];
    const a=api.coord([api.value(0),api.value(1)]),b=api.coord([api.value(0),api.value(2)]);
    return {type:'line',shape:{x1:a[0],y1:a[1],x2:b[0],y2:b[1]},style:{stroke:it[3],lineWidth:it[4],lineDash:it[5]?[12,14]:null}};
  },z);
}
vlines(dashedKb.map(k=>[k,35,744,'#2e2e2e',1.4,1]),9);
vlines(solidKb.map(k=>[k,38,744,'#1a1a1a',1.2,0]),9);
// pink track edge
vlines([[-100,10,117,'#f5b5b5',1,0],[-100,177,244,'#f5b5b5',1,0],[-100,370,435,'#f5b5b5',1,0],[-100,560,627,'#f5b5b5',1,0]],8);
// red CFTR promoter guide
const red=(p,api)=>{
  const a=api.coord([api.value(0),api.value(1)]),b=api.coord([api.value(0),api.value(2)]);
  return {type:'group',children:[
   {type:'line',shape:{x1:a[0],y1:a[1],x2:b[0],y2:b[1]},style:{stroke:'#f6b0b0',lineWidth:1}},
   {type:'line',shape:{x1:a[0],y1:a[1],x2:b[0],y2:b[1]},style:{stroke:'#ed1c24',lineWidth:4.5,lineDash:[5,6]}}]};
};
layer(0,[[119.9,246,367],[119,437,557],[119.9,627,744]],red,11);

// genes
const gene=(list,line)=>{
  layer(0,[[list[0],list[list.length-1],103]],(p,api)=>{
    const a=api.coord([api.value(0),api.value(2)]),b=api.coord([api.value(1),api.value(2)]);
    return {type:'line',shape:{x1:a[0],y1:a[1],x2:b[0],y2:b[1]},style:{stroke:line,lineWidth:2}};
  },10);
  vlines(list.map(k=>[k,91,114,'#26286f',1.1,0]),10);
};
gene(wnt2,'#5a5aa6');gene(asz1,'#33357f');gene(cftr,'#8a8ac0');gene(cttnbp2,'#8a8ac0');

// coordinate ticks and their labels
vlines(tickKb.map(k=>[k,38,61,'#1a1a1a',2.2,0]),12);
const txt=(x,y,text,align,font,color)=>({type:'text',x,y:y+1,style:{text,textAlign:align,textVerticalAlign:'middle',font,fill:color||'#231f20'}});
layer(0,tickKb.map((k,i)=>[k,51,i]),(p,api)=>{
  const a=api.coord([api.value(0),api.value(1)]);
  return txt(a[0]-5,a[1],tickLabels[api.value(2)],'right','bold 16px "Liberation Sans"');
},13);
// scale bar
const scaleBarKb=[149,349];
layer(0,[[scaleBarKb[0],scaleBarKb[1],24]],(p,api)=>{
  const a=api.coord([api.value(0),api.value(2)]),b=api.coord([api.value(1),api.value(2)]);
  const ln=(x1,y1,x2,y2)=>({type:'line',shape:{x1,y1,x2,y2},style:{stroke:'#222',lineWidth:1.5}});
  return {type:'group',children:[ln(a[0],a[1],b[0],b[1]),ln(a[0],a[1]-6,a[0],a[1]+6),ln(b[0],b[1]-6,b[0],b[1]+6),
    txt(a[0]-5,a[1],'200 kb','right','bold 15.5px "Liberation Sans"')]};
},12);
// gene names
const geneNames=[[-97,'WNT2',82,20.6],[-18,'ASZ1',81,20.6],[89,'CFTR',81,20.6],[320,'CTTNBP2',81,21]];
layer(0,geneNames.map((g,i)=>[g[0],g[2],i]),(p,api)=>{
  const a=api.coord([api.value(0),api.value(1)]),g=geneNames[api.value(2)];
  return txt(a[0],a[1],g[1],'left','italic bold '+g[3]+'px "Liberation Sans"');
},13);
// regulatory site labels
layer(0,siteLabels.map((s,i)=>[s[0],s[3],i]),(p,api)=>{
  const a=api.coord([api.value(0),api.value(1)]),s=siteLabels[api.value(2)];
  const right=s[2]==='r';
  return {type:'group',children:[
    {type:'line',shape:{x1:a[0],y1:a[1]-11.5,x2:a[0],y2:a[1]+10},style:{stroke:'#1a1a1a',lineWidth:s[4]}},
    txt(a[0]+(right?-6.5:5),a[1],s[1],right?'right':'left','bold 18.2px "Liberation Sans"')]};
},13);
// arrows
const arrow=(x,tail,tip,color,headColor)=>({type:'group',children:[
  {type:'line',shape:{x1:x,y1:tail,x2:x,y2:tip-6},style:{stroke:color,lineWidth:1.8}},
  {type:'polygon',shape:{points:[[x,tip],[x-6.5,tip-13],[x,tip-10],[x+6.5,tip-13]]},style:{fill:headColor||color}}]});
layer(0,blueArrows.map(a=>[a[0],a[1]]),(p,api)=>{
  const a=api.coord([api.value(0),api.value(1)]);return arrow(a[0],a[1]-25,a[1],'#1cb0ee');
},14);
layer(0,blackArrows.map(k=>[k,280]),(p,api)=>{
  const a=api.coord([api.value(0),api.value(1)]);return arrow(a[0],246,a[1],'#444','#1c1c1c');
},14);
layer(0,orangeArrows.map(k=>[k,467]),(p,api)=>{
  const a=api.coord([api.value(0),api.value(1)]);return arrow(a[0],442,a[1],'#f7941d');
},14);

// margin text
const T=(x,y,text,align,font,color)=>({type:'text',zlevel:1,x,y:y+1,silent:true,z:20,style:{text,textAlign:align,textVerticalAlign:'middle',font,fill:color||'#231f20'}});
const side=(x,y,text,color)=>({type:'text',zlevel:1,x,y,rotation:Math.PI/2,silent:true,z:20,style:{text,textAlign:'center',textVerticalAlign:'middle',font:'bold 24.5px "Liberation Sans"',fill:color}});
const bar=(x,y0,y1)=>({type:'line',zlevel:1,silent:true,z:20,shape:{x1:x,y1:y0,x2:x,y2:y1},style:{stroke:'#231f20',lineWidth:2.5}});
const mask=(x,y,w,h)=>({type:'rect',zlevel:1,silent:true,z:1,shape:{x,y,width:w,height:h},style:{fill:'#fff'}});
const f16='16px "Liberation Sans"', f18='18px "Liberation Sans"', fl='15.4px "Liberation Sans"';
const graphic=[
 mask(94,298,9,76),mask(1008,298,10,76),mask(94,488,9,76),mask(1008,488,10,76),mask(94,678,9,66),mask(1008,678,10,66),
 mask(94,299,924,8),mask(94,367,924,5),mask(94,489,924,8),mask(94,557,924,5),mask(94,679,924,8),
 T(97,51,'chr7:','right','bold 20.5px "Liberation Sans"'),
 side(25,276,'Caco2','#5b3a98'),bar(46,200,347),
 side(25,472,'Calu3','#6cc24a'),bar(46,388,535),
 side(25,655,'Skin fibroblast','#29abe2'),bar(46,583,730),
 T(97,186,'4.3','right',f16),T(97,243,'0','right',f16),T(97,314,'2kb','right',f18),T(101,359,'50kb','right',f18),
 T(97,378,'3.2','right',f16),T(97,429,'0','right',f16),T(99,503,'2kb','right',f18),T(101,550,'50kb','right',f18),
 T(95,568,'40','right',f16),T(97,617,'0','right',f16),T(99,693,'2kb','right',f18),T(101,737,'50kb','right',f18),
 {type:'rect',zlevel:1,silent:true,z:18,shape:{x:1056,y:225,width:19,height:70},style:{fill:'#a7a9ac'}},
 {type:'line',zlevel:1,silent:true,z:19,shape:{x1:1056,y1:260,x2:1075,y2:260},style:{stroke:'#111',lineWidth:2.5}},
 T(1051,234,'80%','right',f16),T(1051,260,'median','right',f16),T(1051,288,'20%','right',f16),
 {type:'text',zlevel:1,x:1088,y:261,rotation:-Math.PI/2,silent:true,z:20,style:{text:'Main trend',textAlign:'center',textVerticalAlign:'middle',font:'18.5px "Liberation Sans"',fill:'#231f20'}},
 {type:'rect',zlevel:1,silent:true,z:19,shape:{x:1055.5,y:303.5,width:20,height:77},style:{fill:'none',stroke:'#333',lineWidth:1}},
 T(1051,311,legendTicks[0],'right',fl),T(1051,328,legendTicks[1],'right',fl),T(1051,346,legendTicks[2],'right',fl),T(1051,364,legendTicks[3],'right',fl)
];
chart.setOption({
 animation:false,grid,xAxis,yAxis,series,graphic,
 visualMap:[{type:'continuous',zlevel:1,seriesIndex:heatSeriesIdx,dimension:4,min:heatMin,max:heatMax,calculable:false,realtime:false,hoverLink:false,
   left:1041,top:289,itemWidth:19,itemHeight:76,text:null,showLabel:false,textStyle:{fontSize:0,color:'rgba(0,0,0,0)'},formatter:()=>'',inRange:{color:heatStops}}]
});
</script></body></html>
